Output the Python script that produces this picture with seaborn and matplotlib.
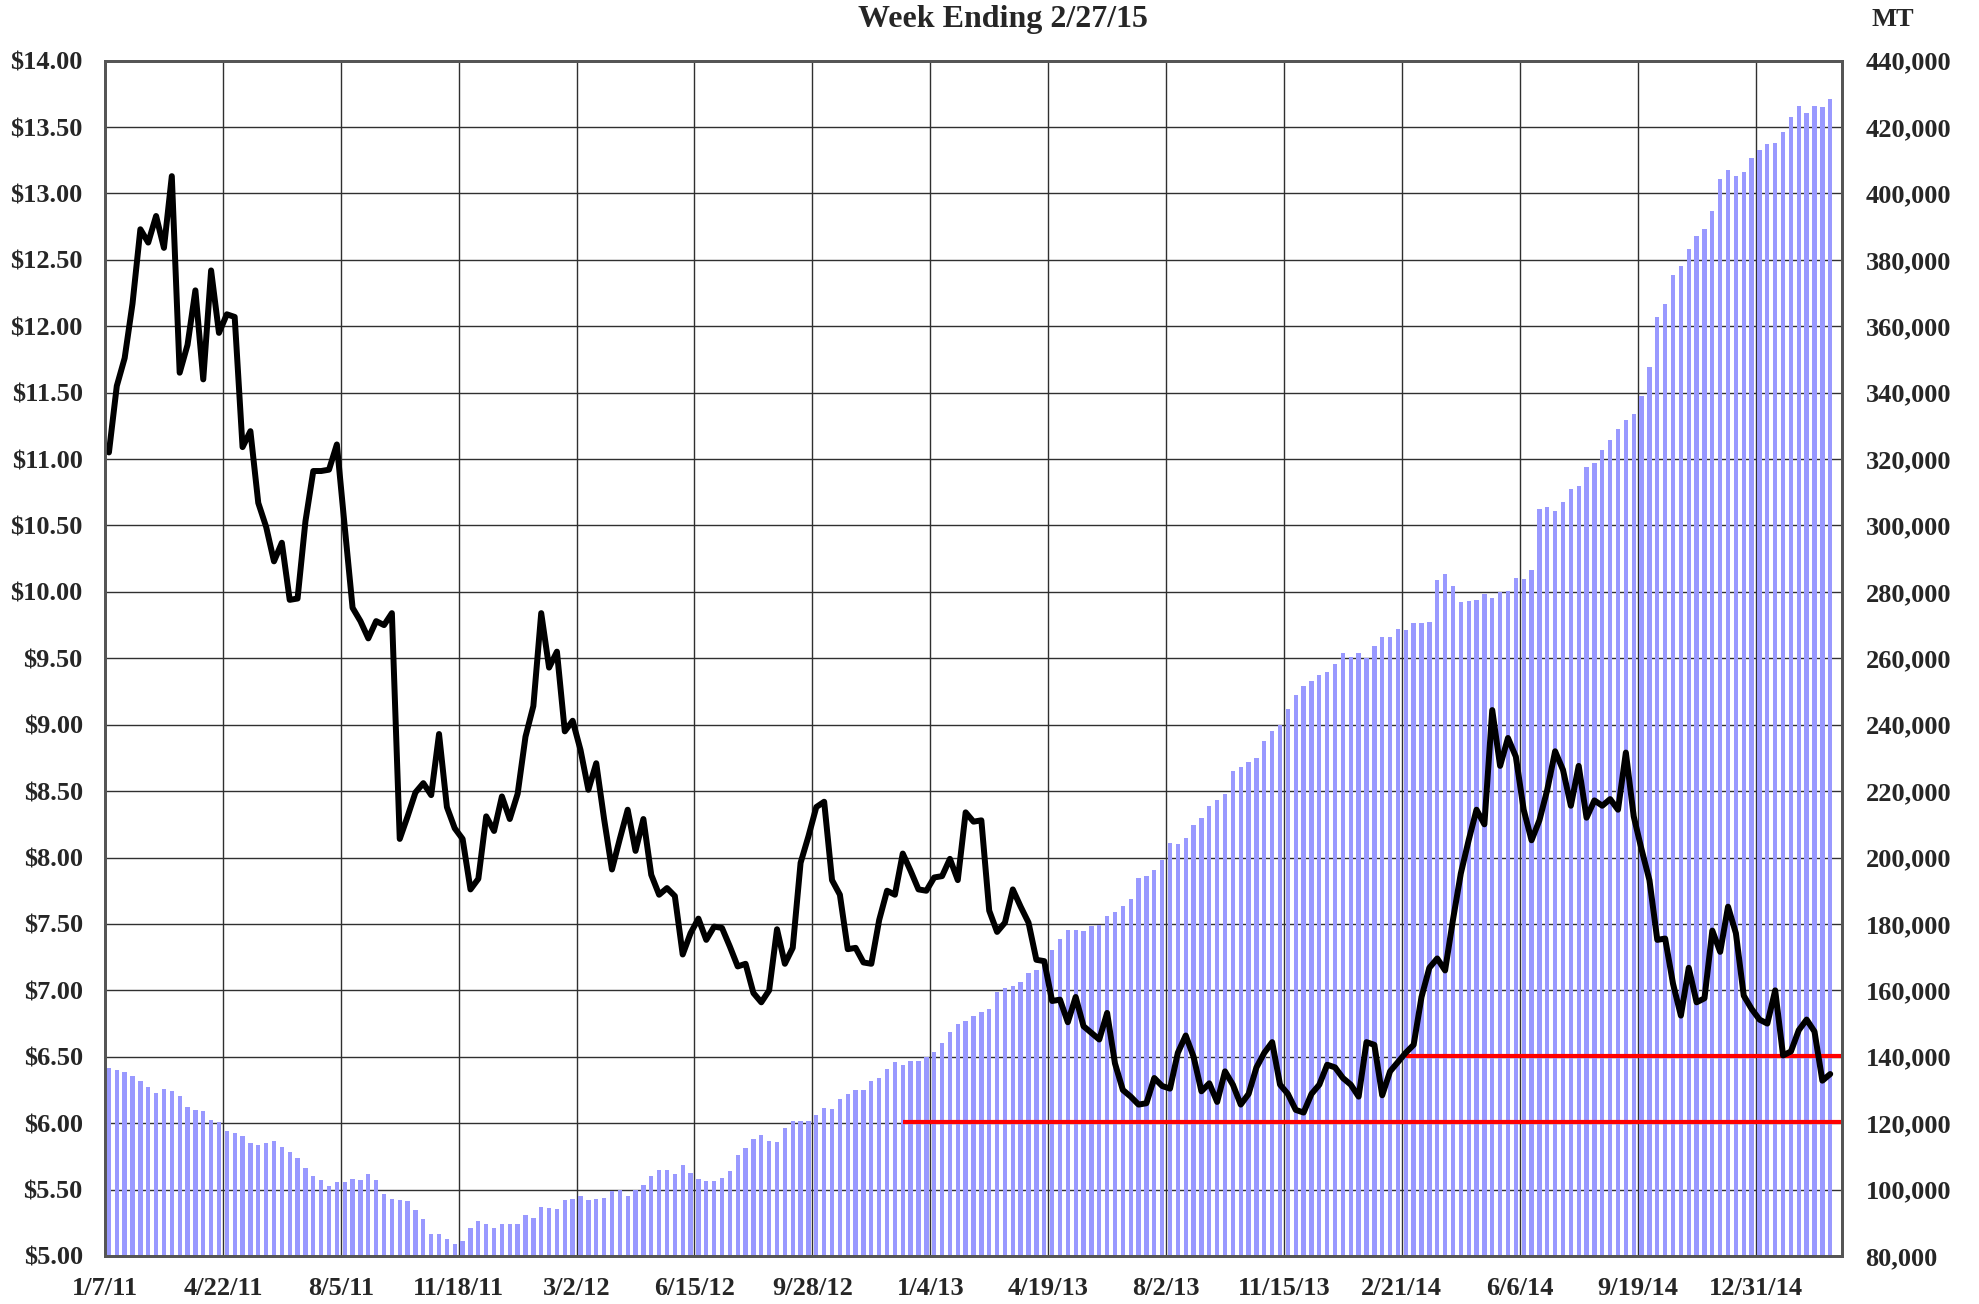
import matplotlib
matplotlib.use('Agg')
import matplotlib.pyplot as plt
import seaborn as sns
import numpy as np
from matplotlib.ticker import FuncFormatter, MultipleLocator

sns.set_style('white')
plt.rcParams['font.family'] = ['Liberation Serif', 'DejaVu Serif']
plt.rcParams['font.weight'] = 'bold'

# weekly price ($/unit), left axis
price = [
    11.05, 11.55, 11.76, 12.17, 12.73, 12.63, 12.83, 12.59, 13.13, 11.65,
    11.86, 12.27, 11.60, 12.42, 11.95, 12.09, 12.07, 11.09, 11.21, 10.67,
    10.49, 10.23, 10.37, 9.94, 9.95, 10.53, 10.91, 10.91, 10.92, 11.11,
    10.49, 9.88, 9.78, 9.65, 9.78, 9.75, 9.84, 8.14, 8.31, 8.49,
    8.56, 8.47, 8.93, 8.38, 8.22, 8.14, 7.76, 7.84, 8.31, 8.20,
    8.46, 8.29, 8.48, 8.91, 9.14, 9.84, 9.43, 9.55, 8.95, 9.03,
    8.81, 8.51, 8.71, 8.29, 7.91, 8.14, 8.36, 8.05, 8.29, 7.87,
    7.72, 7.77, 7.71, 7.27, 7.43, 7.54, 7.38, 7.48, 7.47, 7.33,
    7.18, 7.20, 6.98, 6.91, 7.00, 7.46, 7.20, 7.32, 7.96, 8.16,
    8.38, 8.42, 7.83, 7.72, 7.31, 7.32, 7.21, 7.20, 7.53, 7.75,
    7.72, 8.03, 7.90, 7.76, 7.75, 7.85, 7.86, 7.99, 7.83, 8.34,
    8.27, 8.28, 7.60, 7.44, 7.51, 7.76, 7.63, 7.51, 7.23, 7.22,
    6.92, 6.93, 6.76, 6.95, 6.73, 6.68, 6.63, 6.83, 6.45, 6.25,
    6.20, 6.14, 6.15, 6.34, 6.28, 6.26, 6.53, 6.66, 6.50, 6.24,
    6.30, 6.16, 6.39, 6.29, 6.14, 6.22, 6.42, 6.53, 6.61, 6.29,
    6.22, 6.10, 6.08, 6.22, 6.29, 6.44, 6.42, 6.34, 6.29, 6.20,
    6.61, 6.59, 6.21, 6.39, 6.46, 6.53, 6.59, 6.95, 7.17, 7.24,
    7.15, 7.53, 7.88, 8.13, 8.36, 8.25, 9.11, 8.69, 8.90, 8.76,
    8.36, 8.13, 8.28, 8.51, 8.80, 8.66, 8.39, 8.69, 8.30, 8.43,
    8.39, 8.44, 8.36, 8.79, 8.31, 8.06, 7.83, 7.38, 7.39, 7.05,
    6.81, 7.17, 6.91, 6.94, 7.45, 7.29, 7.63, 7.43, 6.96, 6.86,
    6.78, 6.75, 7.00, 6.51, 6.54, 6.70, 6.78, 6.69, 6.32, 6.37,
]

# weekly stocks, thousand MT, right axis
stocks_k = [
    136.7, 136.1, 135.5, 134.2, 132.6, 130.9, 129.2, 130.3, 129.6, 128.1,
    124.8, 123.9, 123.6, 120.9, 120.3, 117.7, 117.1, 116.0, 114.1, 113.3,
    114.1, 114.6, 112.8, 111.2, 109.5, 106.6, 104.1, 102.9, 101.1, 102.2,
    102.3, 103.2, 102.9, 104.8, 103.0, 98.8, 97.3, 97.0, 96.5, 94.0,
    91.2, 86.5, 86.6, 85.1, 83.7, 84.4, 88.3, 90.4, 89.7, 88.4,
    89.7, 89.7, 89.5, 92.2, 91.5, 94.7, 94.4, 94.2, 97.0, 97.3,
    98.2, 96.9, 97.2, 97.4, 99.6, 100.0, 98.1, 99.8, 101.5, 104.0,
    106.0, 105.9, 104.8, 107.5, 105.1, 103.3, 102.6, 102.6, 103.6, 105.5,
    110.4, 112.4, 115.1, 116.5, 114.6, 114.3, 118.6, 120.8, 120.6, 120.6,
    122.4, 124.6, 124.3, 127.2, 128.8, 130.0, 130.0, 132.8, 133.6, 136.3,
    138.4, 137.6, 138.8, 138.8, 139.8, 141.4, 144.1, 147.6, 150.0, 150.7,
    152.2, 153.4, 154.4, 159.4, 160.7, 161.4, 162.6, 165.2, 166.2, 168.5,
    172.2, 175.5, 178.2, 178.1, 177.9, 179.5, 179.7, 182.3, 183.6, 185.3,
    187.5, 193.7, 194.4, 196.1, 199.4, 204.4, 204.1, 205.8, 209.9, 211.9,
    215.4, 217.4, 219.1, 226.1, 227.4, 228.7, 230.0, 235.2, 238.2, 240.0,
    244.7, 249.0, 251.8, 253.1, 255.1, 255.8, 258.3, 261.5, 260.5, 261.7,
    260.2, 263.7, 266.3, 266.5, 268.8, 268.5, 270.5, 270.5, 270.9, 283.6,
    285.4, 281.9, 276.9, 277.4, 277.6, 279.5, 278.1, 279.9, 280.4, 284.3,
    283.9, 286.6, 305.1, 305.6, 304.4, 307.1, 310.9, 312.0, 317.5, 318.7,
    322.7, 325.7, 329.0, 331.7, 333.7, 338.9, 347.8, 362.8, 366.8, 375.3,
    378.0, 383.4, 387.1, 389.2, 394.8, 404.3, 407.2, 405.2, 406.6, 410.8,
    413.1, 414.9, 415.1, 418.5, 423.0, 426.2, 424.2, 426.2, 425.9, 428.5,
]

tick_labels = ['1/7/11', '4/22/11', '8/5/11', '11/18/11', '3/2/12', '6/15/12',
               '9/28/12', '1/4/13', '4/19/13', '8/2/13', '11/15/13', '2/21/14',
               '6/6/14', '9/19/14', '12/31/14']
weeks_per_tick = 15

# red reference levels (MT) and the week they start
red_levels = [120300, 140300]
red_start_week = [101, 165]

n = len(price)
x = np.arange(n) + 0.5
stocks = np.array(stocks_k) * 1000

fig = plt.figure(figsize=(19.79, 13.04), dpi=100)
ax = fig.add_axes([105 / 1979, 48 / 1304, 1737 / 1979, 1195.4 / 1304])
ax2 = ax.twinx()

# bars -> MT axis (shown on right)
sns.barplot(x=x, y=stocks, native_scale=True, width=0.55, color='#9999FF',
            saturation=1, linewidth=0, ax=ax)
ax.set_ylim(80000, 440000)
ax.yaxis.set_major_locator(MultipleLocator(20000))
ax.yaxis.set_major_formatter(FuncFormatter(lambda v, p: f'{v:,.0f}'))
ax.yaxis.tick_right()
ax.set_axisbelow(True)
ax.grid(True, color='#303030', linewidth=1.0)

ax.hlines(red_levels, [s + 0.5 for s in red_start_week], n + 0.9,
          colors='#FF0000', linewidth=3.0, zorder=5)

# price line -> left axis
sns.lineplot(x=x, y=price, color='black', linewidth=4.3, ax=ax2)
ax2.set_ylim(5, 14)
ax2.yaxis.set_major_locator(MultipleLocator(0.5))
ax2.yaxis.set_major_formatter(FuncFormatter(lambda v, p: f'${v:.2f}'))
ax2.yaxis.tick_left()

ax.set_xlim(0, n + 1)
ax.set_xticks([i * weeks_per_tick for i in range(len(tick_labels))])
ax.set_xticklabels(tick_labels)

for a in (ax, ax2):
    a.set_xlabel('')
    a.set_ylabel('')
    for s in a.spines.values():
        s.set_color('#555555')
        s.set_linewidth(2)

ax.tick_params(axis='x', direction='out', length=5, width=1.2, color='#333333',
               pad=10, labelsize=19)
ax.tick_params(axis='y', length=0, pad=17, labelsize=19, labelright=True, labelleft=False)
ax2.tick_params(axis='y', length=0, pad=16, labelsize=19, labelleft=True, labelright=False)
for lab in ax.get_xticklabels() + ax.get_yticklabels() + ax2.get_yticklabels():
    lab.set_fontweight('bold')

fig.text(1003 / 1979, 1 - 20 / 1304, 'Week Ending 2/27/15', ha='center', va='center',
         fontsize=23, fontweight='bold')
fig.text(1893 / 1979, 1 - 19 / 1304, 'MT', ha='center', va='center',
         fontsize=19, fontweight='bold')

fig.savefig('out.png', dpi=100, facecolor='white')
